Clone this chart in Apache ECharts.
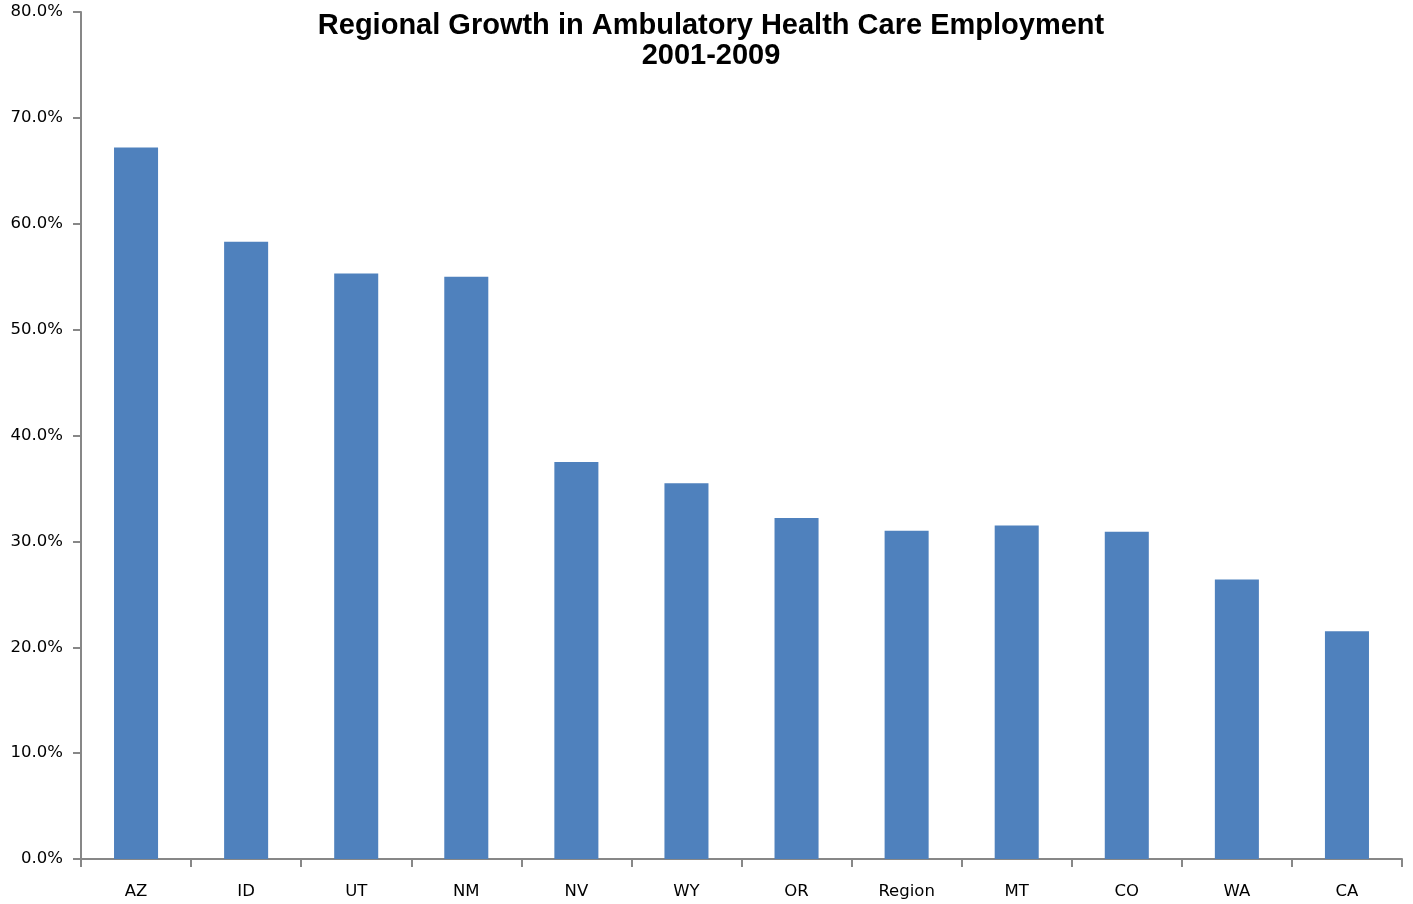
<!DOCTYPE html>
<html><head><meta charset="utf-8">
<script src="https://cdn.jsdelivr.net/npm/echarts@6/dist/echarts.min.js"></script>
<style>html,body{margin:0;padding:0;background:#fff}#c{width:1413px;height:904px}</style>
</head><body><div id="c"></div>
<script>
const categories = ['AZ','ID','UT','NM','NV','WY','OR','Region','MT','CO','WA','CA'];
const growth = [67.2, 58.3, 55.3, 55.0, 37.5, 35.5, 32.2, 31.0, 31.5, 30.9, 26.4, 21.5];
const yTicks = [0, 10, 20, 30, 40, 50, 60, 70, 80];

const chart = echarts.init(document.getElementById('c'));
const axisColor = '#878787';
chart.setOption({
  animation: false,
  title: {
    text: 'Regional Growth in Ambulatory Health Care Employment\n2001-2009',
    left: 706, top: 6, textAlign: 'center',
    textStyle: {fontFamily: 'Liberation Sans', fontWeight: 'bold', fontSize: 29, lineHeight: 30, color: '#000'}
  },
  grid: {left: 81, right: 11, top: 12, bottom: 45, containLabel: false},
  xAxis: {
    type: 'category', data: categories,
    axisLine: {lineStyle: {color: axisColor, width: 2}},
    axisTick: {show: true, length: 8, lineStyle: {color: axisColor, width: 2}},
    axisLabel: {fontFamily: 'DejaVu Sans', fontSize: 16.5, color: '#000', margin: 24, interval: 0}
  },
  yAxis: {
    type: 'value', min: 0, max: 80, interval: 10,
    axisLine: {show: true, lineStyle: {color: axisColor, width: 2}},
    axisTick: {show: true, length: 8, lineStyle: {color: axisColor, width: 2}},
    splitLine: {show: false},
    axisLabel: {fontFamily: 'DejaVu Sans', fontSize: 16.5, color: '#000', margin: 18,
      formatter: v => yTicks.includes(v) ? v.toFixed(1) + '%' : ''}
  },
  series: [{
    type: 'bar', data: growth, barWidth: '40%',
    itemStyle: {color: '#4F81BD'}
  }]
});
</script></body></html>
